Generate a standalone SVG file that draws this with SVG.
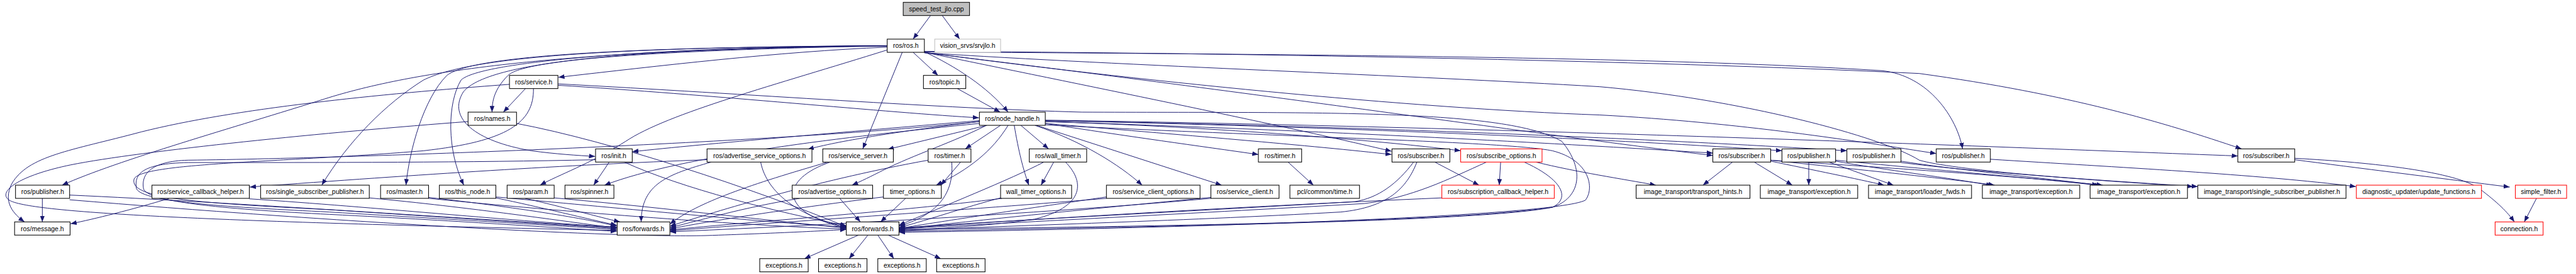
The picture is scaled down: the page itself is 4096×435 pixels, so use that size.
<svg xmlns="http://www.w3.org/2000/svg" width="4096" height="435" viewBox="0 0 4096 435">
<style>
.n rect{fill:#fff;stroke:#000;stroke-width:1.4}
.n.r rect{stroke:#ff0000}
.n.g rect{stroke:#bfbfbf}
.n.s rect{fill:#bfbfbf}
text{font-family:"Liberation Sans",Arial,sans-serif;font-size:14px;text-anchor:middle;fill:#000}
.e path{fill:none;stroke:#191970;stroke-width:1.3;marker-end:url(#a)}
</style>
<defs>
<marker id="a" markerUnits="userSpaceOnUse" markerWidth="14" markerHeight="10" refX="13" refY="5" orient="auto"><path d="M0,0 L13,5 L0,10 z" fill="#191970"/></marker>
</defs>
<rect width="4096" height="435" fill="#fff"/>
<g transform="scale(0.748)">
<g id="edges" class="e">
<path d="M1978,33 L1941,83"/>
<path d="M2003,33 L2040,83"/>
<path d="M1941,111 L1994,160"/>
<path d="M1965,110 C2030,140 2100,185 2143,238"/>
<path d="M2035,188 L2126,238"/>
<path d="M1918,111 L1834,316"/>
<path d="M1886,106 C1650,180 1420,240 1330,300 C1250,350 1190,370 1148,393"/>
<path d="M1886,100 C1650,110 1400,140 1187,164"/>
<path d="M1886,97 C1500,105 1120,120 1080,160 C1050,190 1046,215 1046,238"/>
<path d="M1117,188 L1070,238"/>
<path d="M1886,98 C1400,102 1040,125 985,195 C950,250 1010,300 1130,320 C1180,327 1230,330 1265,332"/>
<path d="M1886,97 C1400,100 1020,130 980,170 C950,220 950,320 986,393"/>
<path d="M1886,97 C1300,100 1000,120 950,160 C900,210 870,320 863,393"/>
<path d="M1886,97 C1300,100 1000,120 900,170 C820,220 740,300 684,393"/>
<path d="M1886,97 C1200,104 880,150 690,210 C500,270 250,340 132,393"/>
<path d="M1083,179 C800,200 500,230 300,280 C150,320 60,330 25,390 C5,430 30,455 52,471"/>
<path d="M1186,181 C1500,200 1900,240 2081,250"/>
<path d="M1186,178 C1600,200 2000,230 2300,238 C2800,240 3200,230 3320,300 C3370,360 3360,420 3300,440 C3100,470 2500,480 1911,487"/>
<path d="M1134,188 C1135,260 1080,300 900,320 C600,345 300,345 285,380 C275,420 400,430 700,445 C1000,465 1200,478 1311,485"/>
<path d="M995,258 C700,280 300,320 150,350 C30,375 -5,410 20,425 C60,450 400,470 1311,489"/>
<path d="M1098,262 C1300,300 1600,400 1799,481"/>
<path d="M1295,344 L1262,393"/>
<path d="M2082,262 C1800,290 1450,330 1285,393"/>
<path d="M1327,344 C1450,400 1650,450 1799,479"/>
<path d="M1266,339 C1000,345 700,345 400,345 C300,347 285,370 290,400 C300,430 500,440 700,450 C1000,468 1200,480 1311,487"/>
<path d="M2082,258 C1700,300 800,335 400,340 C320,342 300,370 305,400 C310,430 500,445 700,455 C1000,470 1200,485 1311,491"/>
<path d="M2082,256 C1800,280 1500,305 1344,322"/>
<path d="M1512,344 C1420,370 1363,390 1363,471"/>
<path d="M1503,339 C1200,350 900,370 531,397"/>
<path d="M1617,344 C1630,410 1700,460 1799,482"/>
<path d="M1760,344 C1600,390 1480,430 1424,476"/>
<path d="M1765,344 C1660,380 1650,450 1799,484"/>
<path d="M2082,258 C1900,280 1780,300 1717,317"/>
<path d="M2098,266 L1887,317"/>
<path d="M2127,266 L2052,316"/>
<path d="M2097,266 C2030,300 1940,330 1880,360 C1850,375 1830,385 1811,393"/>
<path d="M2143,266 C2110,320 2060,360 1990,393"/>
<path d="M2042,344 L2000,393"/>
<path d="M2023,344 C2030,420 1980,460 1911,480"/>
<path d="M1973,340 C1750,380 1550,440 1424,480"/>
<path d="M1785,421 L1829,471"/>
<path d="M1700,421 C1580,440 1480,470 1424,483"/>
<path d="M1925,421 L1872,471"/>
<path d="M1878,418 C1700,440 1500,470 1424,486"/>
<path d="M2170,266 L2229,316"/>
<path d="M2156,266 C2165,320 2175,360 2187,393"/>
<path d="M2240,344 L2213,393"/>
<path d="M2219,344 C2150,380 2000,440 1911,478"/>
<path d="M2265,344 C2310,390 2300,440 2200,465 C2100,480 1990,485 1911,489"/>
<path d="M2127,420 C2050,440 1980,465 1911,483"/>
<path d="M2130,421 C1900,450 1600,470 1424,488"/>
<path d="M2200,266 C2300,300 2380,350 2428,393"/>
<path d="M2203,266 L2597,393"/>
<path d="M2352,418 C2200,440 2000,470 1911,485"/>
<path d="M2352,421 C2000,450 1600,475 1424,490"/>
<path d="M2574,419 C2300,445 2050,470 1911,487"/>
<path d="M2574,421 C2200,455 1700,480 1424,492"/>
<path d="M2222,262 C2400,290 2550,310 2675,328"/>
<path d="M2738,344 L2792,393"/>
<path d="M1965,111 C2300,180 2700,260 2958,321"/>
<path d="M2222,262 C2500,285 2800,310 2958,328"/>
<path d="M2222,258 C2600,270 2950,300 3105,320"/>
<path d="M3050,344 L3144,393"/>
<path d="M3190,344 L3187,393"/>
<path d="M3265,344 C3350,365 3450,380 3520,393"/>
<path d="M3005,344 C2970,390 2930,420 2880,428 C2500,450 2100,470 1911,484"/>
<path d="M3012,344 C2990,400 2950,440 2850,450 C2500,470 2100,480 1911,490"/>
<path d="M3160,344 C3080,380 3000,420 2900,432 C2500,455 2100,475 1911,486"/>
<path d="M3065,420 C2600,440 2200,465 1911,485"/>
<path d="M3240,344 C3320,380 3340,420 3300,440 C3150,470 2500,480 1911,491"/>
<path d="M2222,265 C2700,290 3200,300 3300,320 C3380,340 3390,400 3370,425 C3300,460 2500,485 1911,493"/>
<path d="M3683,344 L3620,393"/>
<path d="M3729,344 L3810,393"/>
<path d="M3764,342 C3850,360 3950,380 4005,393"/>
<path d="M3764,340 C3950,360 4150,380 4240,393"/>
<path d="M3764,340 C4000,355 4300,375 4470,393"/>
<path d="M3845,344 L3845,393"/>
<path d="M3888,344 L4025,393"/>
<path d="M3902,342 C4000,360 4150,378 4235,394"/>
<path d="M3902,340 C4100,360 4350,380 4465,394"/>
<path d="M4041,345 C4200,365 4450,382 4672,396"/>
<path d="M4041,342 C4150,360 4350,378 4460,393"/>
<path d="M4231,338 C4500,355 4800,370 5008,396"/>
<path d="M1965,110 C2600,115 3500,118 4000,150 C4100,160 4160,250 4172,316"/>
<path d="M1965,109 C2600,112 3500,128 4080,156 C4400,200 4600,260 4765,316"/>
<path d="M1965,112 C2400,140 3000,160 3400,184 C3700,210 4000,290 4080,340 C4150,360 4400,380 4662,396"/>
<path d="M1965,111 C2400,170 3000,230 3400,244 C3700,260 3950,300 4116,326"/>
<path d="M1965,112 C2700,200 3300,290 3641,330"/>
<path d="M2222,256 C2900,270 3500,300 3788,320"/>
<path d="M2222,256 C3000,270 3600,300 3926,320"/>
<path d="M2222,258 C2900,280 3400,310 3641,325"/>
<path d="M2222,255 C3200,270 4200,310 4757,331"/>
<path d="M4878,339 C5000,355 5200,380 5335,397"/>
<path d="M4878,336 C5050,345 5220,365 5270,400 C5310,430 5330,450 5345,471"/>
<path d="M5392,421 L5366,471"/>
<path d="M90,421 L90,471"/>
<path d="M360,421 C280,445 200,465 150,475"/>
<path d="M148,414 C500,430 1000,465 1311,483"/>
<path d="M148,424 C700,470 1300,505 1500,500 C1650,495 1750,490 1799,487"/>
<path d="M530,422 C800,440 1100,470 1311,482"/>
<path d="M785,420 C1000,440 1200,470 1311,484"/>
<path d="M911,419 C1100,440 1250,465 1311,480"/>
<path d="M911,421 C1200,450 1600,480 1799,486"/>
<path d="M1054,420 C1150,440 1250,465 1311,478"/>
<path d="M1054,418 C1300,440 1600,470 1799,482"/>
<path d="M1116,421 C1200,440 1270,460 1318,471"/>
<path d="M1178,420 C1400,440 1650,470 1799,484"/>
<path d="M1825,499 L1710,549"/>
<path d="M1845,499 L1805,549"/>
<path d="M1866,499 L1900,549"/>
<path d="M1888,499 L2000,549"/>
</g>
<g id="n_speed" class="n s"><rect x="1920" y="5" width="141" height="28"/><text x="1990.5" y="24">speed_test_jlo.cpp</text></g>
<g id="n_ros" class="n"><rect x="1886" y="83" width="79" height="28"/><text x="1925.5" y="102">ros/ros.h</text></g>
<g id="n_vision" class="n g"><rect x="1987" y="83" width="140" height="28"/><text x="2057" y="102">vision_srvs/srvjlo.h</text></g>
<g id="n_service" class="n"><rect x="1083" y="160" width="103" height="28"/><text x="1134.5" y="179">ros/service.h</text></g>
<g id="n_topic" class="n"><rect x="1963" y="160" width="90" height="28"/><text x="2008" y="179">ros/topic.h</text></g>
<g id="n_names" class="n"><rect x="995" y="238" width="103" height="28"/><text x="1046.5" y="257">ros/names.h</text></g>
<g id="n_nh" class="n"><rect x="2082" y="238" width="140" height="28"/><text x="2152" y="257">ros/node_handle.h</text></g>
<g id="n_init" class="n"><rect x="1266" y="316" width="78" height="28"/><text x="1305" y="335">ros/init.h</text></g>
<g id="n_aso" class="n"><rect x="1503" y="316" width="223" height="28"/><text x="1614.5" y="335">ros/advertise_service_options.h</text></g>
<g id="n_ss" class="n"><rect x="1749" y="316" width="150" height="28"/><text x="1824" y="335">ros/service_server.h</text></g>
<g id="n_timer" class="n"><rect x="1973" y="316" width="91" height="28"/><text x="2018.5" y="335">ros/timer.h</text></g>
<g id="n_wtimer" class="n"><rect x="2188" y="316" width="122" height="28"/><text x="2249" y="335">ros/wall_timer.h</text></g>
<g id="n_timer2" class="n"><rect x="2675" y="316" width="92" height="28"/><text x="2721" y="335">ros/timer.h</text></g>
<g id="n_sub1" class="n"><rect x="2959" y="316" width="123" height="28"/><text x="3020.5" y="335">ros/subscriber.h</text></g>
<g id="n_subopt" class="n r"><rect x="3105" y="316" width="173" height="28"/><text x="3191.5" y="335">ros/subscribe_options.h</text></g>
<g id="n_sub2" class="n"><rect x="3641" y="316" width="123" height="28"/><text x="3702.5" y="335">ros/subscriber.h</text></g>
<g id="n_pub2" class="n"><rect x="3788" y="316" width="114" height="28"/><text x="3845" y="335">ros/publisher.h</text></g>
<g id="n_pub3" class="n"><rect x="3926" y="316" width="115" height="28"/><text x="3983.5" y="335">ros/publisher.h</text></g>
<g id="n_pub4" class="n"><rect x="4116" y="316" width="115" height="28"/><text x="4173.5" y="335">ros/publisher.h</text></g>
<g id="n_sub3" class="n"><rect x="4757" y="316" width="121" height="28"/><text x="4817.5" y="335">ros/subscriber.h</text></g>
<g id="n_pub1" class="n"><rect x="33" y="393" width="115" height="28"/><text x="90.5" y="412">ros/publisher.h</text></g>
<g id="n_sch" class="n"><rect x="323" y="393" width="207" height="28"/><text x="426.5" y="412">ros/service_callback_helper.h</text></g>
<g id="n_ssp" class="n"><rect x="554" y="393" width="231" height="28"/><text x="669.5" y="412">ros/single_subscriber_publisher.h</text></g>
<g id="n_master" class="n"><rect x="809" y="393" width="102" height="28"/><text x="860" y="412">ros/master.h</text></g>
<g id="n_thisnode" class="n"><rect x="934" y="393" width="120" height="28"/><text x="994" y="412">ros/this_node.h</text></g>
<g id="n_param" class="n"><rect x="1078" y="393" width="100" height="28"/><text x="1128" y="412">ros/param.h</text></g>
<g id="n_spinner" class="n"><rect x="1201" y="393" width="104" height="28"/><text x="1253" y="412">ros/spinner.h</text></g>
<g id="n_ao" class="n"><rect x="1684" y="393" width="171" height="28"/><text x="1769.5" y="412">ros/advertise_options.h</text></g>
<g id="n_to" class="n"><rect x="1878" y="393" width="123" height="28"/><text x="1939.5" y="412">timer_options.h</text></g>
<g id="n_wto" class="n"><rect x="2127" y="393" width="151" height="28"/><text x="2202.5" y="412">wall_timer_options.h</text></g>
<g id="n_sco" class="n"><rect x="2352" y="393" width="199" height="28"/><text x="2451.5" y="412">ros/service_client_options.h</text></g>
<g id="n_sc" class="n"><rect x="2574" y="393" width="145" height="28"/><text x="2646.5" y="412">ros/service_client.h</text></g>
<g id="n_pcl" class="n"><rect x="2742" y="393" width="148" height="28"/><text x="2816" y="412">pcl/common/time.h</text></g>
<g id="n_subcb" class="n r"><rect x="3065" y="393" width="239" height="28"/><text x="3184.5" y="412">ros/subscription_callback_helper.h</text></g>
<g id="n_th" class="n"><rect x="3478" y="393" width="242" height="28"/><text x="3599" y="412">image_transport/transport_hints.h</text></g>
<g id="n_ex1" class="n"><rect x="3742" y="393" width="207" height="28"/><text x="3845.5" y="412">image_transport/exception.h</text></g>
<g id="n_lf" class="n"><rect x="3972" y="393" width="219" height="28"/><text x="4081.5" y="412">image_transport/loader_fwds.h</text></g>
<g id="n_ex2" class="n"><rect x="4214" y="393" width="207" height="28"/><text x="4317.5" y="412">image_transport/exception.h</text></g>
<g id="n_ex3" class="n"><rect x="4443" y="393" width="207" height="28"/><text x="4546.5" y="412">image_transport/exception.h</text></g>
<g id="n_issp" class="n"><rect x="4672" y="393" width="315" height="28"/><text x="4829.5" y="412">image_transport/single_subscriber_publisher.h</text></g>
<g id="n_diag" class="n r"><rect x="5009" y="393" width="266" height="28"/><text x="5142" y="412">diagnostic_updater/update_functions.h</text></g>
<g id="n_sf" class="n r"><rect x="5347" y="393" width="109" height="28"/><text x="5401.5" y="412">simple_filter.h</text></g>
<g id="n_msg" class="n"><rect x="31" y="471" width="118" height="28"/><text x="90" y="490">ros/message.h</text></g>
<g id="n_fw1" class="n"><rect x="1312" y="471" width="112" height="28"/><text x="1368" y="490">ros/forwards.h</text></g>
<g id="n_fw2" class="n"><rect x="1799" y="471" width="112" height="28"/><text x="1855" y="490">ros/forwards.h</text></g>
<g id="n_conn" class="n r"><rect x="5304" y="471" width="102" height="28"/><text x="5355" y="490">connection.h</text></g>
<g id="n_exc1" class="n"><rect x="1615" y="549" width="103" height="28"/><text x="1666.5" y="568">exceptions.h</text></g>
<g id="n_exc2" class="n"><rect x="1740" y="549" width="103" height="28"/><text x="1791.5" y="568">exceptions.h</text></g>
<g id="n_exc3" class="n"><rect x="1866" y="549" width="103" height="28"/><text x="1917.5" y="568">exceptions.h</text></g>
<g id="n_exc4" class="n"><rect x="1991" y="549" width="103" height="28"/><text x="2042.5" y="568">exceptions.h</text></g>
</g>
</svg>
